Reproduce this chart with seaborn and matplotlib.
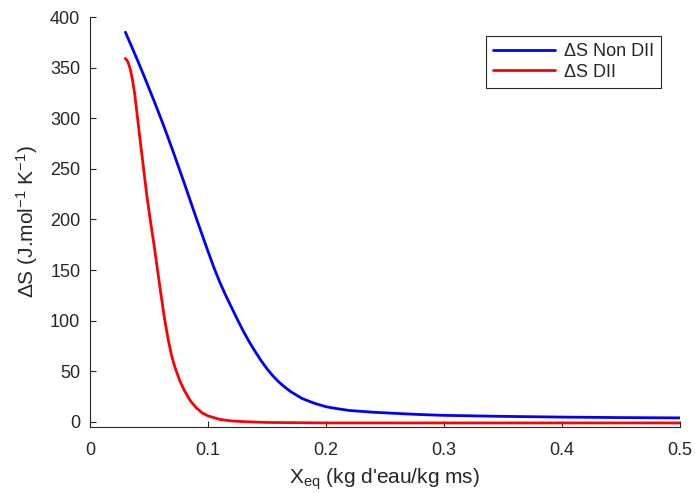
import numpy as np
import pandas as pd
import matplotlib
matplotlib.use("Agg")
import matplotlib.pyplot as plt
import seaborn as sns

# Data
x_non_dii = [0.030, 0.035, 0.040, 0.045, 0.050, 0.055, 0.060, 0.065, 0.070, 0.075,
             0.080, 0.085, 0.090, 0.095, 0.100, 0.105, 0.110, 0.115, 0.120, 0.125,
             0.130, 0.135, 0.140, 0.145, 0.150, 0.155, 0.160, 0.165, 0.170, 0.180,
             0.190, 0.200, 0.210, 0.220, 0.240, 0.260, 0.280, 0.300, 0.350, 0.400,
             0.450, 0.500]
ds_non_dii = [385, 371.5, 358, 344, 329.5, 315, 300, 284.5, 268.5, 252,
              235.5, 218.5, 201.5, 185, 168.5, 152.5, 138, 125, 113, 101,
              89.5, 79, 69.5, 60.5, 52.5, 45.5, 39.5, 34.5, 30, 23,
              18.5, 15, 13, 11.3, 9.6, 8.4, 7.3, 6.5, 5.5, 4.8,
              4.3, 4.0]

x_dii = [0.030, 0.032, 0.034, 0.036, 0.038, 0.040, 0.042, 0.045, 0.048, 0.051,
         0.054, 0.057, 0.060, 0.063, 0.066, 0.069, 0.072, 0.076, 0.080, 0.085,
         0.090, 0.095, 0.100, 0.110, 0.120, 0.130, 0.150, 0.200, 0.300, 0.400, 0.500]
ds_dii = [359, 356, 349, 338, 323, 303, 283, 254, 225, 200,
          177, 152, 127, 103, 83, 66, 54, 41, 31, 21,
          14, 9, 6, 2.5, 1, 0.3, -0.5, -1, -1, -1, -1]

labels = ["\u0394S Non DII", "\u0394S DII"]
colors = ["#0000FF", "#FF0000"]

df = pd.concat([
    pd.DataFrame({"x": x_non_dii, "y": ds_non_dii, "serie": labels[0]}),
    pd.DataFrame({"x": x_dii, "y": ds_dii, "serie": labels[1]}),
], ignore_index=True)

sns.set_style("ticks")
plt.rcParams["font.family"] = ["Liberation Sans", "DejaVu Sans"]
plt.rcParams["mathtext.fontset"] = "custom"
plt.rcParams["mathtext.rm"] = "Liberation Sans"
plt.rcParams["mathtext.it"] = "Liberation Sans"

fig = plt.figure(figsize=(6.95, 4.93), dpi=100)
ax = fig.add_axes([90 / 695, 1 - 427 / 493, 590 / 695, 410 / 493])

sns.lineplot(data=df, x="x", y="y", hue="serie", palette=dict(zip(labels, colors)),
             sort=False, estimator=None, linewidth=2.0, ax=ax)

ax.set_xlim(0, 0.5)
ax.set_ylim(-5, 400)
ax.set_xticks([0, 0.1, 0.2, 0.3, 0.4, 0.5])
ax.set_xticklabels(["0", "0.1", "0.2", "0.3", "0.4", "0.5"])
ax.set_yticks(np.arange(0, 401, 50))

for s in ["top", "right"]:
    ax.spines[s].set_visible(False)
for s in ["left", "bottom"]:
    ax.spines[s].set_color("#262626")
    ax.spines[s].set_linewidth(0.8)

ax.tick_params(direction="in", length=4, width=0.8, color="#262626",
               labelsize=13, labelcolor="#262626")
ax.tick_params(axis="x", pad=11)
ax.tick_params(axis="y", pad=7)

ax.set_xlabel("X$_{\\mathregular{eq}}$ (kg d'eau/kg ms)", fontsize=15, color="#262626", labelpad=5)
ax.set_ylabel("\u0394S (J.mol$^{\\mathregular{-1}}$ K$^{\\mathregular{-1}}$)", fontsize=15,
              color="#262626", labelpad=7)

leg = ax.legend(loc="upper right", fontsize=13, frameon=True, fancybox=False,
                edgecolor="#262626", framealpha=1, handlelength=3.4,
                borderaxespad=1.05, borderpad=0.4, labelspacing=0.2, handletextpad=0.5)
leg.get_frame().set_linewidth(0.8)

fig.savefig("out.png", dpi=100)
